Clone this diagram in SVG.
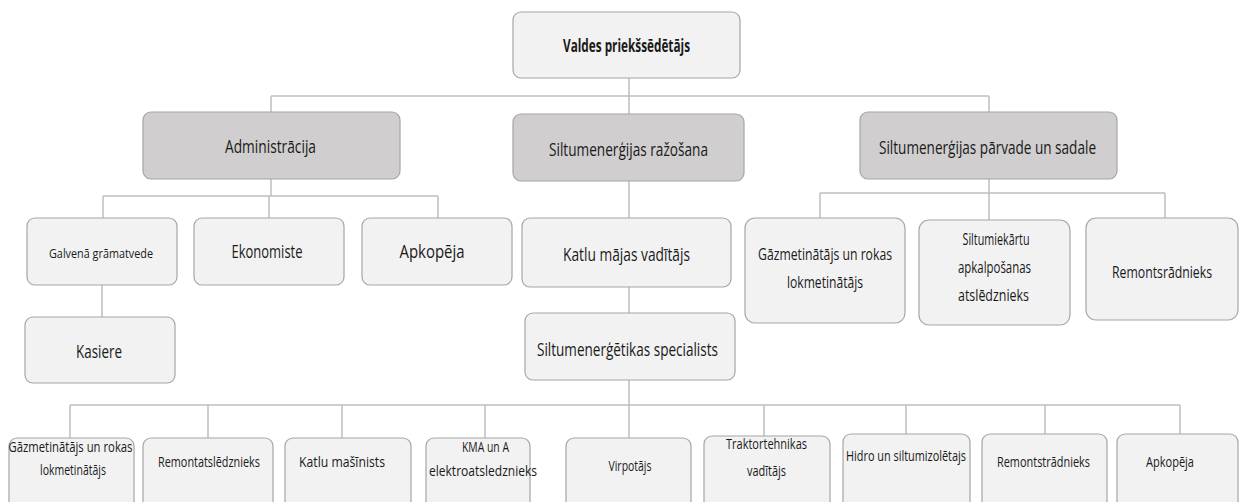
<svg xmlns="http://www.w3.org/2000/svg" width="1240" height="502" viewBox="0 0 1240 502">
<style>
.n{fill:#f2f2f2;stroke:#a6a6a6;stroke-width:1.2}
.d{fill:#d0cece;stroke:#a6a6a6;stroke-width:1.2}
.c{fill:none;stroke:#bfbfbf;stroke-width:1.5}
text{font-family:"Open Sans","DejaVu Sans",sans-serif;fill:#1a1a1a;text-anchor:middle;dominant-baseline:central}
.b{font-weight:bold;font-size:17px}
.l{font-size:18px}
.m{font-size:16.5px}
.g{font-size:13.5px}
.s{font-size:14.5px}
</style>
<rect width="1240" height="502" fill="#ffffff"/>
<g id="connectors">
<path class="c" d="M629 78V114M271 96H989M271 96V112M989 96V112"/>
<path class="c" d="M271 179V196M103 196H438M103 196V218M269 196V218M438 196V218M102 285V317"/>
<path class="c" d="M629 181V218M629 287V313M629 380V405"/>
<path class="c" d="M989 179V193M820 193H1165M820 193V218M989 193V220M1165 193V218"/>
<path class="c" d="M70 405H1180M70 405V438M208 405V438M342 405V438M485 405V438M629 405V438M764 405V436M906 405V434M1045 405V434M1180 405V434"/>
</g>
<g id="n-valdes"><rect class="n" x="513" y="12" width="227" height="66" rx="8"/><text class="b" x="626.5" y="45" textLength="127" lengthAdjust="spacingAndGlyphs">Valdes priekšsēdētājs</text></g>
<g id="n-admin"><rect class="d" x="143" y="112" width="257" height="67" rx="8"/><text class="l" x="270.5" y="146" textLength="91" lengthAdjust="spacingAndGlyphs">Administrācija</text></g>
<g id="n-razosana"><rect class="d" x="513" y="114" width="231" height="67" rx="8"/><text class="l" x="628.5" y="149" textLength="159" lengthAdjust="spacingAndGlyphs">Siltumenerģijas ražošana</text></g>
<g id="n-parvade"><rect class="d" x="860" y="112" width="257" height="67" rx="8"/><text class="l" x="987.5" y="147" textLength="217" lengthAdjust="spacingAndGlyphs">Siltumenerģijas pārvade un sadale</text></g>
<g id="n-galvena"><rect class="n" x="27" y="218" width="150" height="67" rx="8"/><text class="g" x="101" y="253" textLength="104" lengthAdjust="spacingAndGlyphs">Galvenā grāmatvede</text></g>
<g id="n-ekonomiste"><rect class="n" x="194" y="218" width="150" height="67" rx="8"/><text class="l" x="267" y="251" textLength="71" lengthAdjust="spacingAndGlyphs">Ekonomiste</text></g>
<g id="n-apkopeja1"><rect class="n" x="362" y="218" width="150" height="67" rx="8"/><text class="l" x="432" y="251" textLength="65" lengthAdjust="spacingAndGlyphs">Apkopēja</text></g>
<g id="n-kasiere"><rect class="n" x="25" y="317" width="150" height="66" rx="8"/><text class="l" x="99" y="351" textLength="46" lengthAdjust="spacingAndGlyphs">Kasiere</text></g>
<g id="n-katlu"><rect class="n" x="522" y="218" width="209" height="69" rx="8"/><text class="l" x="626.5" y="254" textLength="127" lengthAdjust="spacingAndGlyphs">Katlu mājas vadītājs</text></g>
<g id="n-specialists"><rect class="n" x="525" y="313" width="210" height="67" rx="8"/><text class="l" x="627.5" y="349" textLength="181" lengthAdjust="spacingAndGlyphs">Siltumenerģētikas specialists</text></g>
<g id="n-gazmet1"><rect class="n" x="745" y="218" width="160" height="105" rx="10"/><text class="m" x="825" y="253" textLength="134" lengthAdjust="spacingAndGlyphs">Gāzmetinātājs un rokas</text><text class="m" x="825" y="281" textLength="76" lengthAdjust="spacingAndGlyphs">lokmetinātājs</text></g>
<g id="n-siltumiekartu"><rect class="n" x="919" y="220" width="151" height="105" rx="10"/><text class="m" x="996" y="238" textLength="67" lengthAdjust="spacingAndGlyphs">Siltumiekārtu</text><text class="m" x="994.5" y="266" textLength="73" lengthAdjust="spacingAndGlyphs">apkalpošanas</text><text class="m" x="993.5" y="294" textLength="71" lengthAdjust="spacingAndGlyphs">atslēdznieks</text></g>
<g id="n-remontsradnieks"><rect class="n" x="1086" y="218" width="152" height="102" rx="10"/><text class="m" x="1162" y="271" textLength="100" lengthAdjust="spacingAndGlyphs">Remontsrādnieks</text></g>
<g id="n-gazmet2"><rect class="n" x="9" y="438" width="125" height="72" rx="8"/><text class="s" x="70.5" y="446" textLength="124" lengthAdjust="spacingAndGlyphs">Gāzmetinātājs un rokas</text><text class="s" x="73" y="469" textLength="66" lengthAdjust="spacingAndGlyphs">lokmetinātājs</text></g>
<g id="n-remontatsl"><rect class="n" x="143" y="438" width="130" height="72" rx="8"/><text class="s" x="209" y="461" textLength="102" lengthAdjust="spacingAndGlyphs">Remontatslēdznieks</text></g>
<g id="n-masinists"><rect class="n" x="285" y="438" width="126" height="72" rx="8"/><text class="s" x="342" y="461" textLength="86" lengthAdjust="spacingAndGlyphs">Katlu mašīnists</text></g>
<g id="n-kma"><rect class="n" x="426" y="438" width="104" height="72" rx="8"/><text class="s" x="485.5" y="446" textLength="47" lengthAdjust="spacingAndGlyphs">KMA un A</text><text class="s" x="483" y="470" textLength="108" lengthAdjust="spacingAndGlyphs">elektroatsledznieks</text></g>
<g id="n-virpotajs"><rect class="n" x="566" y="438" width="125" height="72" rx="8"/><text class="s" x="630" y="465" textLength="43" lengthAdjust="spacingAndGlyphs">Virpotājs</text></g>
<g id="n-traktor"><rect class="n" x="704" y="436" width="126" height="74" rx="8"/><text class="s" x="766.5" y="443" textLength="81" lengthAdjust="spacingAndGlyphs">Traktortehnikas</text><text class="s" x="766.5" y="470" textLength="39" lengthAdjust="spacingAndGlyphs">vadītājs</text></g>
<g id="n-hidro"><rect class="n" x="843" y="434" width="127" height="76" rx="8"/><text class="s" x="906" y="455" textLength="120" lengthAdjust="spacingAndGlyphs">Hidro un siltumizolētajs</text></g>
<g id="n-remontstr"><rect class="n" x="982" y="434" width="125" height="76" rx="8"/><text class="s" x="1043.5" y="461" textLength="93" lengthAdjust="spacingAndGlyphs">Remontstrādnieks</text></g>
<g id="n-apkopeja2"><rect class="n" x="1117" y="434" width="121" height="76" rx="8"/><text class="s" x="1170" y="461" textLength="48" lengthAdjust="spacingAndGlyphs">Apkopēja</text></g>
</svg>
